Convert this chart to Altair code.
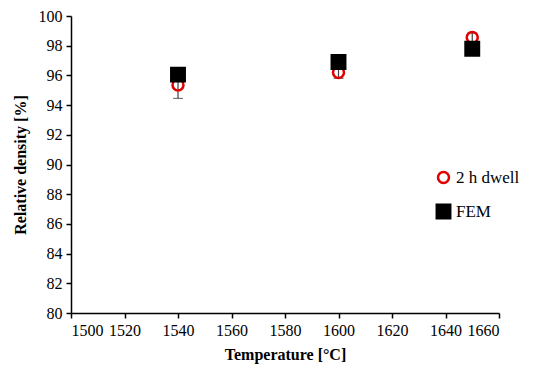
import altair as alt
import pandas as pd

temps = [1540, 1600, 1650]
dwell = [95.35, 96.2, 98.55]
dwell_err = [0.9, 0.4, 0.3]
fem = [96.05, 96.9, 97.8]
series_names = ["2 h dwell", "FEM"]

df = pd.DataFrame({
    "T": temps * 2,
    "rho": dwell + fem,
    "series": [series_names[0]] * 3 + [series_names[1]] * 3,
})
err = pd.DataFrame({
    "T": temps,
    "lo": [d - e for d, e in zip(dwell, dwell_err)],
    "hi": [d + e for d, e in zip(dwell, dwell_err)],
})

FONT = "Liberation Serif"

xscale = alt.Scale(domain=[1500, 1660], nice=False, zero=False)
yscale = alt.Scale(domain=[80, 100], nice=False, zero=False)

axis_style = dict(grid=False, domainColor="black", tickColor="black", domainWidth=1.5, tickWidth=1.5,
                  labelFont=FONT, titleFont=FONT, labelFontSize=16, titleFontSize=16,
                  labelColor="black", titleColor="black", titleFontWeight="bold", tickSize=5,
                  labelPadding=4)
xaxis = alt.Axis(values=list(range(1500, 1661, 20)), format="d", title="Temperature [°C]",
                 titlePadding=8, **axis_style)
yaxis = alt.Axis(values=list(range(80, 101, 2)), format="d", title="Relative density [%]",
                 titlePadding=10, **axis_style)

leg = alt.Legend(title=None, orient="none", legendX=364, legendY=153,
                 labelFont=FONT, labelFontSize=17, labelColor="black",
                 rowPadding=11, symbolStrokeWidth=2.5, labelOffset=4)

bars = alt.Chart(err).mark_rule(color="#404040", strokeWidth=1.2).encode(
    x=alt.X("T:Q", scale=xscale, axis=xaxis),
    y=alt.Y("lo:Q", scale=yscale, axis=yaxis),
    y2="hi:Q",
)
caps_lo = alt.Chart(err).mark_tick(color="#404040", thickness=1.2, size=10, orient="horizontal").encode(
    x=alt.X("T:Q", scale=xscale, axis=xaxis), y=alt.Y("lo:Q", scale=yscale, axis=yaxis))
caps_hi = alt.Chart(err).mark_tick(color="#404040", thickness=1.2, size=10, orient="horizontal").encode(
    x=alt.X("T:Q", scale=xscale, axis=xaxis), y=alt.Y("hi:Q", scale=yscale, axis=yaxis))

pts = alt.Chart(df).mark_point(strokeWidth=2.5, opacity=1).encode(
    x=alt.X("T:Q", scale=xscale, axis=xaxis),
    y=alt.Y("rho:Q", scale=yscale, axis=yaxis),
    shape=alt.Shape("series:N", scale=alt.Scale(domain=series_names, range=["circle", "square"]), legend=leg),
    color=alt.Color("series:N", scale=alt.Scale(domain=series_names, range=["#e00000", "black"]), legend=leg),
    fill=alt.Fill("series:N", scale=alt.Scale(domain=series_names, range=["transparent", "black"]), legend=leg),
    size=alt.Size("series:N", scale=alt.Scale(domain=series_names, range=[120, 180]), legend=leg),
)

chart = (bars + caps_lo + caps_hi + pts).properties(
    width=428, height=297, background="white",
    padding={"left": 4, "top": 0, "right": 5, "bottom": 5}
).configure_view(stroke=None)

chart.save("out.html", embed_options={"renderer": "svg", "actions": False})
